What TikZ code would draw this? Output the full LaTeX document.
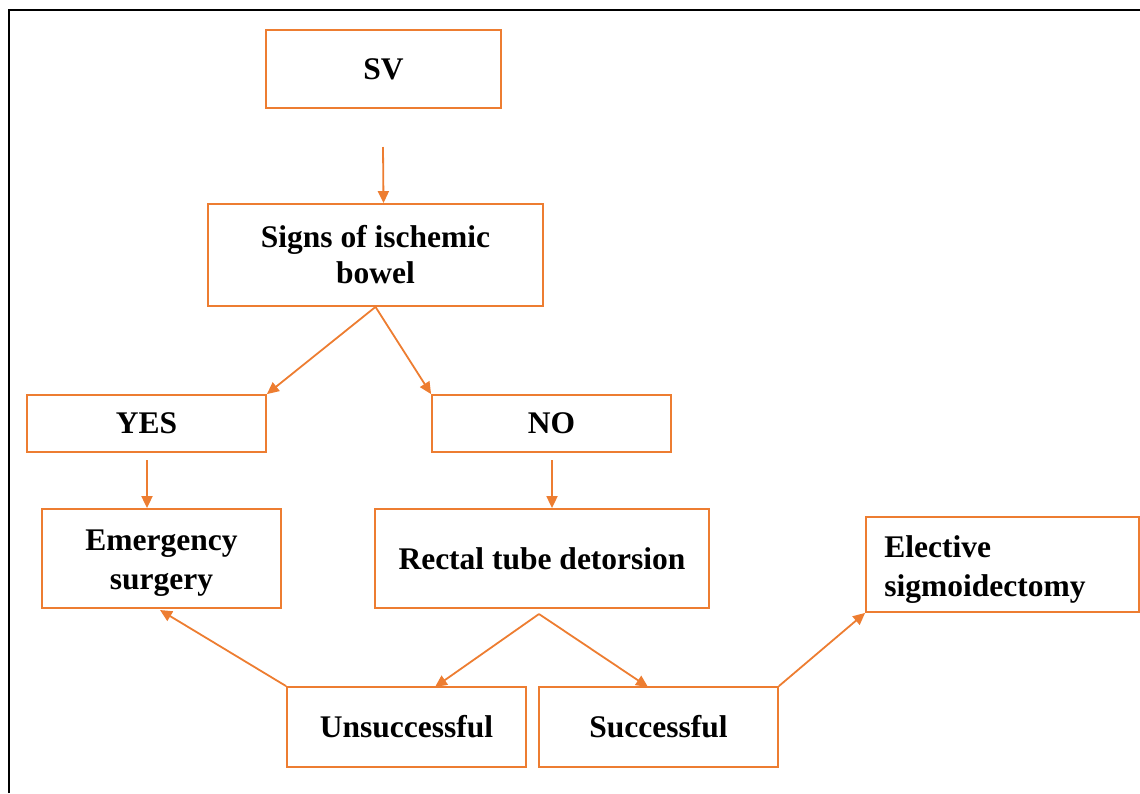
\documentclass[tikz,border=0pt]{standalone}
\usepackage{fontspec}
\setmainfont{Liberation Serif}
\usetikzlibrary{arrows.meta,calc}
\definecolor{orng}{HTML}{ED7D31}
\begin{document}
\begin{tikzpicture}[x=1pt,y=-1pt,
  box/.style={draw=orng, line width=1.8pt, rectangle, inner sep=0pt, align=center,
    font=\fontsize{31.5}{36}\selectfont\bfseries},
  txt/.style={inner sep=0pt, font=\fontsize{31.5}{39}\selectfont\bfseries},
  arr/.style={draw=orng, line width=1.8pt, -{Triangle[length=12pt,width=11pt]}}]
\useasboundingbox (0,0) rectangle (1140,793);
\draw[line width=2.5pt] (9,793) -- (9,10) -- (1140,10);
\node[box, minimum width=235pt, minimum height=78pt] (sv) at (383.5,69) {SV};
\node[box, minimum width=335pt, minimum height=102pt] (signs) at (375.5,255) {Signs of ischemic\\bowel};
\node[box, minimum width=239pt, minimum height=57pt] (yes) at (146.5,423.5) {YES};
\node[box, minimum width=239pt, minimum height=57pt] (no) at (551.5,423.5) {NO};
\node[box, minimum width=239pt, minimum height=99pt] (emer) at (161.5,558.5) {};
\node[txt, align=center] (emert) at ($(emer.center)+(0,5)$) {Emergency\\surgery};
\node[box, minimum width=334pt, minimum height=99pt] (rect) at (542,558.5) {Rectal tube detorsion};
\node[box, minimum width=273pt, minimum height=95pt] (elec) at (1002.5,564.5) {};
\node[txt, align=left, anchor=west] (elect) at ($(elec.west)+(19,5)$) {Elective\\sigmoidectomy};
\node[box, minimum width=239pt, minimum height=80pt] (uns) at (406.5,727) {Unsuccessful};
\node[box, minimum width=239pt, minimum height=80pt] (suc) at (658.5,727) {Successful};
\coordinate (a1) at (383,147);
\coordinate (a2) at (147,460);
\coordinate (a3) at (552,460);
\coordinate (r1) at (539,614);
\draw[arr] (a1) -- (sv.south |- signs.north);
\draw[arr] (signs.south) -- (yes.north east);
\draw[arr] (signs.south) -- (no.north west);
\draw[arr] (a2) -- (a2 |- emer.north);
\draw[arr] (a3) -- (a3 |- rect.north);
\draw[arr] (r1) -- (435,687);
\draw[arr] (r1) -- (648,687);
\draw[arr] (uns.north west) -- (160,610);
\draw[arr] (suc.north east) -- (elec.south west);
\end{tikzpicture}
\end{document}
